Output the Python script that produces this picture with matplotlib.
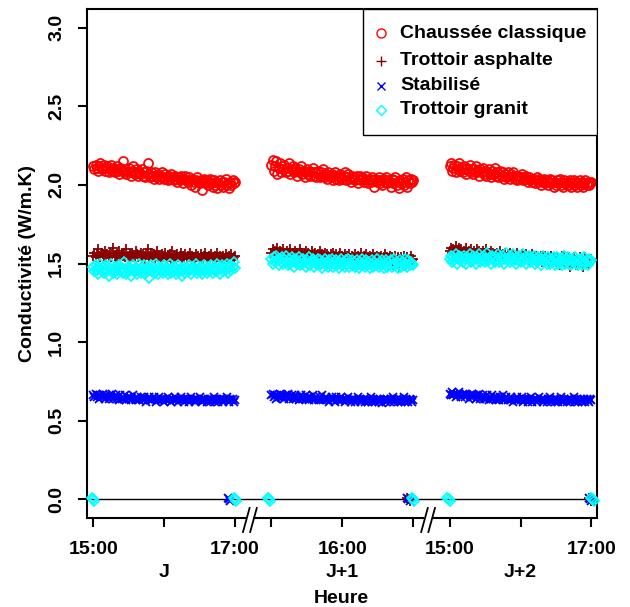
import matplotlib
matplotlib.use("Agg")
import matplotlib.pyplot as plt

plt.rcParams['font.family'] = ['Liberation Sans', 'DejaVu Sans']

# ---------------- data ----------------
series_names = ["Chaussée classique", "Trottoir asphalte", "Stabilisé", "Trottoir granit"]
day_labels = ["J", "J+1", "J+2"]
hour_tick_labels = ["15:00", "", "17:00", "", "16:00", "", "15:00", "", "17:00"]
tick_hours = [15, 16, 17]
minutes = list(range(0, 121))   # minutes after 15:00, each day

chaussee_j0 = [2.12, 2.10, 2.13, 2.11, 2.09, 2.12, 2.14, 2.10, 2.11, 2.13,
               2.09, 2.11, 2.12, 2.08, 2.10, 2.13, 2.09, 2.11, 2.08, 2.10,
               2.12, 2.09, 2.07, 2.11, 2.09, 2.15, 2.08, 2.10, 2.07, 2.09,
               2.11, 2.08, 2.06, 2.09, 2.12, 2.07, 2.08, 2.10, 2.06, 2.08,
               2.07, 2.10, 2.06, 2.08, 2.05, 2.09, 2.14, 2.07, 2.05, 2.08,
               2.06, 2.04, 2.08, 2.06, 2.05, 2.07, 2.04, 2.06, 2.08, 2.05,
               2.04, 2.07, 2.05, 2.03, 2.06, 2.04, 2.07, 2.05, 2.03, 2.06,
               2.04, 2.02, 2.05, 2.03, 2.06, 2.04, 2.01, 2.04, 2.06, 2.03,
               2.02, 2.05, 2.03, 2.00, 2.04, 2.02, 1.99, 2.03, 2.05, 2.02,
               2.01, 2.03, 1.97, 2.02, 2.04, 2.01, 2.03, 2.00, 2.02, 2.04,
               2.01, 1.99, 2.03, 2.00, 2.02, 1.98, 2.01, 2.03, 2.00, 2.02,
               1.99, 2.02, 2.04, 2.00, 2.01, 1.98, 2.02, 2.00, 2.03, 2.01,
               2.02]
chaussee_j1 = [2.13, 2.16, 2.09, 2.12, 2.15, 2.07, 2.11, 2.14, 2.08, 2.12,
               2.10, 2.13, 2.08, 2.11, 2.09, 2.14, 2.07, 2.10, 2.12, 2.08,
               2.11, 2.09, 2.06, 2.10, 2.08, 2.12, 2.07, 2.09, 2.05, 2.08,
               2.10, 2.07, 2.09, 2.06, 2.08, 2.11, 2.06, 2.08, 2.05, 2.09,
               2.07, 2.05, 2.08, 2.06, 2.10, 2.05, 2.07, 2.04, 2.08, 2.06,
               2.05, 2.07, 2.03, 2.06, 2.08, 2.04, 2.06, 2.03, 2.07, 2.05,
               2.04, 2.06, 2.08, 2.03, 2.05, 2.07, 2.04, 2.02, 2.06, 2.04,
               2.05, 2.03, 2.06, 2.01, 2.04, 2.06, 2.03, 2.05, 2.02, 2.04,
               2.06, 2.03, 2.01, 2.04, 2.02, 2.05, 2.03, 1.99, 2.04, 2.02,
               2.03, 2.05, 2.01, 2.03, 2.00, 2.04, 2.02, 2.05, 2.01, 2.03,
               2.02, 1.99, 2.04, 2.01, 2.03, 2.05, 2.00, 2.02, 1.98, 2.03,
               2.01, 2.04, 2.00, 2.02, 2.05, 1.99, 2.03, 2.01, 2.04, 2.02,
               2.03]
chaussee_j2 = [2.12, 2.14, 2.09, 2.11, 2.13, 2.08, 2.12, 2.10, 2.14, 2.09,
               2.11, 2.08, 2.12, 2.10, 2.07, 2.11, 2.09, 2.13, 2.08, 2.10,
               2.07, 2.10, 2.12, 2.08, 2.09, 2.06, 2.10, 2.08, 2.11, 2.07,
               2.09, 2.06, 2.08, 2.10, 2.07, 2.05, 2.09, 2.07, 2.11, 2.06,
               2.08, 2.05, 2.07, 2.09, 2.06, 2.08, 2.04, 2.07, 2.05, 2.08,
               2.06, 2.04, 2.07, 2.05, 2.08, 2.04, 2.06, 2.03, 2.06, 2.04,
               2.05, 2.07, 2.03, 2.05, 2.04, 2.06, 2.02, 2.05, 2.03, 2.04,
               2.02, 2.04, 2.01, 2.03, 2.05, 2.02, 2.04, 2.00, 2.03, 2.02,
               2.04, 2.01, 2.03, 2.00, 2.02, 2.04, 2.01, 2.03, 1.99, 2.02,
               2.00, 2.03, 2.01, 2.04, 2.00, 2.02, 1.99, 2.03, 2.01, 2.00,
               2.02, 2.00, 2.03, 1.99, 2.01, 2.03, 2.00, 2.02, 1.99, 2.01,
               2.03, 2.00, 2.02, 1.99, 2.01, 2.03, 2.00, 2.02, 2.00, 2.01,
               2.02]

asphalte_j0 = [1.55, 1.57, 1.54, 1.56, 1.59, 1.55, 1.54, 1.57, 1.56, 1.55,
               1.58, 1.54, 1.56, 1.55, 1.57, 1.54, 1.56, 1.60, 1.55, 1.54,
               1.56, 1.55, 1.58, 1.54, 1.56, 1.55, 1.57, 1.54, 1.59, 1.55,
               1.54, 1.56, 1.55, 1.57, 1.54, 1.55, 1.58, 1.56, 1.54, 1.55,
               1.57, 1.54, 1.56, 1.55, 1.53, 1.56, 1.59, 1.54, 1.55, 1.57,
               1.54, 1.56, 1.53, 1.55, 1.58, 1.54, 1.55, 1.53, 1.56, 1.54,
               1.55, 1.57, 1.53, 1.55, 1.54, 1.56, 1.53, 1.58, 1.54, 1.55,
               1.53, 1.56, 1.54, 1.55, 1.57, 1.53, 1.55, 1.54, 1.56, 1.53,
               1.55, 1.54, 1.57, 1.53, 1.55, 1.54, 1.52, 1.56, 1.54, 1.55,
               1.53, 1.56, 1.54, 1.53, 1.55, 1.57, 1.54, 1.53, 1.55, 1.54,
               1.56, 1.53, 1.54, 1.55, 1.53, 1.57, 1.54, 1.55, 1.53, 1.54,
               1.55, 1.53, 1.56, 1.54, 1.53, 1.55, 1.54, 1.56, 1.53, 1.54,
               1.55]
asphalte_j1 = [1.57, 1.59, 1.56, 1.58, 1.57, 1.60, 1.56, 1.58, 1.57, 1.56,
               1.59, 1.57, 1.56, 1.58, 1.55, 1.57, 1.59, 1.56, 1.57, 1.55,
               1.58, 1.56, 1.57, 1.55, 1.59, 1.56, 1.57, 1.55, 1.56, 1.58,
               1.55, 1.57, 1.56, 1.54, 1.58, 1.55, 1.56, 1.57, 1.54, 1.56,
               1.55, 1.58, 1.54, 1.56, 1.55, 1.57, 1.54, 1.56, 1.55, 1.53,
               1.56, 1.54, 1.57, 1.55, 1.53, 1.56, 1.54, 1.55, 1.57, 1.53,
               1.55, 1.54, 1.56, 1.53, 1.55, 1.54, 1.56, 1.53, 1.55, 1.54,
               1.53, 1.56, 1.54, 1.55, 1.53, 1.54, 1.57, 1.53, 1.55, 1.54,
               1.56, 1.53, 1.54, 1.55, 1.53, 1.54, 1.56, 1.52, 1.54, 1.55,
               1.53, 1.54, 1.52, 1.55, 1.53, 1.54, 1.56, 1.52, 1.54, 1.53,
               1.55, 1.52, 1.54, 1.49, 1.53, 1.55, 1.52, 1.54, 1.48, 1.53,
               1.54, 1.52, 1.55, 1.53, 1.49, 1.54, 1.52, 1.53, 1.55, 1.52,
               1.53]
asphalte_j2 = [1.58, 1.60, 1.57, 1.59, 1.58, 1.61, 1.57, 1.58, 1.60, 1.57,
               1.59, 1.57, 1.58, 1.56, 1.60, 1.57, 1.58, 1.56, 1.59, 1.57,
               1.56, 1.58, 1.57, 1.59, 1.56, 1.58, 1.57, 1.55, 1.58, 1.56,
               1.57, 1.59, 1.55, 1.57, 1.56, 1.58, 1.55, 1.57, 1.56, 1.54,
               1.57, 1.55, 1.56, 1.58, 1.54, 1.56, 1.55, 1.57, 1.54, 1.56,
               1.55, 1.57, 1.54, 1.55, 1.56, 1.53, 1.55, 1.57, 1.54, 1.55,
               1.53, 1.56, 1.54, 1.55, 1.53, 1.56, 1.54, 1.52, 1.55, 1.54,
               1.56, 1.53, 1.54, 1.55, 1.52, 1.54, 1.53, 1.55, 1.51, 1.54,
               1.53, 1.55, 1.52, 1.54, 1.50, 1.53, 1.55, 1.52, 1.54, 1.53,
               1.51, 1.54, 1.52, 1.49, 1.53, 1.55, 1.52, 1.54, 1.50, 1.53,
               1.52, 1.54, 1.48, 1.53, 1.51, 1.54, 1.52, 1.49, 1.53, 1.52,
               1.54, 1.51, 1.53, 1.48, 1.52, 1.54, 1.51, 1.53, 1.50, 1.52,
               1.53]

stabilise_j0 = [0.66, 0.65, 0.67, 0.65, 0.66, 0.64, 0.66, 0.65, 0.67, 0.65,
                0.64, 0.66, 0.65, 0.64, 0.66, 0.65, 0.67, 0.64, 0.65, 0.66,
                0.64, 0.65, 0.63, 0.66, 0.64, 0.65, 0.64, 0.66, 0.63, 0.65,
                0.64, 0.65, 0.63, 0.64, 0.66, 0.64, 0.63, 0.65, 0.64, 0.63,
                0.65, 0.64, 0.63, 0.65, 0.64, 0.62, 0.64, 0.65, 0.63, 0.64,
                0.63, 0.65, 0.64, 0.62, 0.64, 0.63, 0.65, 0.64, 0.63, 0.64,
                0.62, 0.64, 0.63, 0.65, 0.63, 0.64, 0.62, 0.64, 0.63, 0.65,
                0.63, 0.64, 0.62, 0.63, 0.65, 0.63, 0.64, 0.62, 0.64, 0.63,
                0.64, 0.62, 0.63, 0.65, 0.63, 0.64, 0.62, 0.63, 0.64, 0.63,
                0.65, 0.63, 0.62, 0.64, 0.63, 0.64, 0.62, 0.64, 0.63, 0.62,
                0.64, 0.63, 0.65, 0.62, 0.64, 0.63, 0.62, 0.64, 0.63, 0.64,
                0.62, 0.64, 0.63, 0.65, 0.63, 0.62, 0.64, 0.63, 0.64, 0.62,
                0.63]
stabilise_j1 = [0.66, 0.67, 0.65, 0.66, 0.64, 0.66, 0.65, 0.67, 0.65, 0.66,
                0.65, 0.64, 0.66, 0.65, 0.67, 0.64, 0.65, 0.66, 0.64, 0.65,
                0.66, 0.64, 0.65, 0.63, 0.65, 0.66, 0.64, 0.65, 0.64, 0.66,
                0.64, 0.65, 0.63, 0.65, 0.64, 0.66, 0.63, 0.64, 0.65, 0.64,
                0.63, 0.65, 0.64, 0.66, 0.63, 0.64, 0.65, 0.63, 0.64, 0.62,
                0.64, 0.65, 0.63, 0.64, 0.62, 0.65, 0.63, 0.64, 0.63, 0.65,
                0.63, 0.64, 0.62, 0.64, 0.63, 0.65, 0.63, 0.62, 0.64, 0.63,
                0.64, 0.62, 0.63, 0.65, 0.63, 0.64, 0.62, 0.63, 0.64, 0.62,
                0.63, 0.64, 0.62, 0.63, 0.65, 0.62, 0.64, 0.63, 0.62, 0.64,
                0.63, 0.62, 0.64, 0.63, 0.61, 0.64, 0.63, 0.62, 0.64, 0.63,
                0.62, 0.64, 0.63, 0.65, 0.62, 0.63, 0.64, 0.62, 0.63, 0.64,
                0.62, 0.63, 0.65, 0.62, 0.64, 0.63, 0.62, 0.64, 0.63, 0.62,
                0.63]
stabilise_j2 = [0.67, 0.66, 0.68, 0.66, 0.67, 0.65, 0.67, 0.66, 0.68, 0.66,
                0.65, 0.67, 0.66, 0.65, 0.67, 0.66, 0.64, 0.66, 0.65, 0.67,
                0.65, 0.66, 0.64, 0.66, 0.65, 0.67, 0.64, 0.65, 0.66, 0.64,
                0.65, 0.64, 0.66, 0.63, 0.65, 0.64, 0.66, 0.64, 0.65, 0.63,
                0.65, 0.64, 0.63, 0.65, 0.64, 0.66, 0.63, 0.64, 0.65, 0.63,
                0.64, 0.63, 0.65, 0.64, 0.62, 0.64, 0.63, 0.65, 0.63, 0.64,
                0.63, 0.65, 0.62, 0.64, 0.63, 0.64, 0.62, 0.64, 0.63, 0.65,
                0.62, 0.64, 0.63, 0.64, 0.62, 0.63, 0.65, 0.63, 0.64, 0.62,
                0.64, 0.63, 0.62, 0.64, 0.63, 0.65, 0.62, 0.63, 0.64, 0.62,
                0.63, 0.64, 0.62, 0.63, 0.65, 0.63, 0.62, 0.64, 0.63, 0.62,
                0.64, 0.63, 0.62, 0.64, 0.63, 0.65, 0.62, 0.63, 0.64, 0.62,
                0.63, 0.64, 0.62, 0.63, 0.64, 0.62, 0.64, 0.63, 0.62, 0.64,
                0.63]

granit_j0 = [1.48, 1.45, 1.49, 1.46, 1.43, 1.47, 1.50, 1.45, 1.48, 1.44,
             1.46, 1.49, 1.45, 1.42, 1.47, 1.50, 1.46, 1.44, 1.48, 1.45,
             1.43, 1.47, 1.49, 1.45, 1.47, 1.44, 1.51, 1.46, 1.43, 1.48,
             1.45, 1.47, 1.42, 1.46, 1.49, 1.45, 1.47, 1.43, 1.46, 1.50,
             1.44, 1.47, 1.45, 1.49, 1.43, 1.46, 1.48, 1.41, 1.46, 1.49,
             1.45, 1.47, 1.44, 1.50, 1.46, 1.43, 1.48, 1.45, 1.47, 1.44,
             1.49, 1.45, 1.47, 1.43, 1.46, 1.50, 1.44, 1.47, 1.45, 1.48,
             1.43, 1.46, 1.49, 1.45, 1.47, 1.42, 1.46, 1.48, 1.44, 1.47,
             1.45, 1.49, 1.46, 1.43, 1.48, 1.45, 1.47, 1.50, 1.44, 1.46,
             1.48, 1.45, 1.43, 1.47, 1.49, 1.46, 1.44, 1.48, 1.45, 1.47,
             1.49, 1.44, 1.46, 1.48, 1.45, 1.50, 1.46, 1.43, 1.47, 1.49,
             1.45, 1.48, 1.46, 1.50, 1.44, 1.47, 1.49, 1.46, 1.48, 1.51,
             1.47]
granit_j1 = [1.53, 1.50, 1.54, 1.51, 1.55, 1.52, 1.49, 1.53, 1.51, 1.54,
             1.50, 1.52, 1.55, 1.51, 1.49, 1.53, 1.50, 1.54, 1.52, 1.48,
             1.51, 1.53, 1.50, 1.54, 1.49, 1.52, 1.50, 1.53, 1.51, 1.48,
             1.52, 1.50, 1.54, 1.49, 1.51, 1.53, 1.48, 1.51, 1.50, 1.53,
             1.49, 1.52, 1.50, 1.47, 1.51, 1.53, 1.49, 1.51, 1.48, 1.52,
             1.50, 1.53, 1.48, 1.51, 1.49, 1.52, 1.50, 1.47, 1.51, 1.53,
             1.49, 1.51, 1.48, 1.52, 1.50, 1.53, 1.48, 1.50, 1.52, 1.49,
             1.51, 1.48, 1.52, 1.50, 1.47, 1.51, 1.49, 1.53, 1.50, 1.48,
             1.52, 1.49, 1.51, 1.47, 1.50, 1.52, 1.48, 1.51, 1.49, 1.53,
             1.50, 1.48, 1.51, 1.49, 1.52, 1.47, 1.50, 1.52, 1.48, 1.51,
             1.49, 1.52, 1.48, 1.50, 1.53, 1.49, 1.51, 1.47, 1.50, 1.52,
             1.48, 1.51, 1.49, 1.53, 1.50, 1.48, 1.52, 1.49, 1.51, 1.50,
             1.49]
granit_j2 = [1.53, 1.55, 1.51, 1.54, 1.52, 1.56, 1.50, 1.53, 1.55, 1.52,
             1.54, 1.51, 1.55, 1.53, 1.50, 1.54, 1.52, 1.56, 1.51, 1.53,
             1.55, 1.52, 1.50, 1.54, 1.53, 1.56, 1.51, 1.54, 1.52, 1.55,
             1.51, 1.53, 1.57, 1.52, 1.54, 1.50, 1.55, 1.53, 1.51, 1.54,
             1.52, 1.56, 1.51, 1.54, 1.52, 1.55, 1.50, 1.53, 1.57, 1.52,
             1.54, 1.51, 1.55, 1.53, 1.56, 1.52, 1.50, 1.54, 1.52, 1.55,
             1.51, 1.53, 1.56, 1.52, 1.54, 1.50, 1.53, 1.55, 1.51, 1.54,
             1.52, 1.55, 1.50, 1.53, 1.51, 1.54, 1.52, 1.49, 1.53, 1.55,
             1.51, 1.53, 1.50, 1.54, 1.52, 1.50, 1.53, 1.51, 1.54, 1.49,
             1.52, 1.54, 1.50, 1.53, 1.51, 1.49, 1.53, 1.55, 1.50, 1.52,
             1.54, 1.50, 1.52, 1.49, 1.53, 1.51, 1.54, 1.50, 1.52, 1.49,
             1.53, 1.51, 1.49, 1.52, 1.54, 1.50, 1.52, 1.49, 1.53, 1.51,
             1.52]

# readings near zero (sensor off): day index, minute after 15:00, value
asphalte_zero_day = [1, 1, 1, 2, 2, 2]
asphalte_zero_min = [115, 116, 117, 118, 119, 120]
asphalte_zero_val = [0.01, 0.0, -0.01, 0.01, 0.0, -0.01]
stabilise_zero_day = [0, 0, 0, 1, 1, 1, 2, 2, 2]
stabilise_zero_min = [114, 115, 116, 115, 116, 117, 118, 119, 120]
stabilise_zero_val = [0.01, 0.0, -0.01, 0.01, 0.0, -0.01, 0.01, 0.0, -0.01]
granit_zero_day = [0, 0, 0, 0, 0, 0, 1, 1, 1, 1, 1, 1, 2, 2, 2, 2, 2, 2]
granit_zero_min = [-1, 0, 1, 119, 120, 121, -3, -2, -1, 119, 120, 121,
                   -2, -1, 0, 120, 121, 122]
granit_zero_val = [0.01, 0.0, -0.01] * 6

# ---------------- layout ----------------
DAY_OFFSET = [0.0, 2.515, 5.03]   # hours on the broken x axis
BREAKS = [2.21, 4.725]
FS = 14
FW = 'bold'

def xpos(day, minute):
    return DAY_OFFSET[day] + minute / 60.0

W, H = 630, 607
fig = plt.figure(figsize=(W / 100, H / 100), dpi=100)
L, R, T, B = 86.7, 596.7, 9.0, 518.0
ax = fig.add_axes([L / W, 1 - B / H, (R - L) / W, (B - T) / H])
xl = (-0.0932, 7.105)
ax.set_xlim(*xl)
ax.set_ylim(-0.12, 3.12)

colors = ["#FF0000", "#8B0000", "#0000FF", "#00FFFF"]
styles = [dict(marker='o', ms=6.5, mfc='none', mec=colors[0], mew=1.25),
          dict(marker='+', ms=7.5, mec=colors[1], mew=1.3),
          dict(marker='x', ms=5.5, mec=colors[2], mew=1.3),
          dict(marker='D', ms=5.6, mfc='none', mec=colors[3], mew=1.25)]

data = [[chaussee_j0, chaussee_j1, chaussee_j2],
        [asphalte_j0, asphalte_j1, asphalte_j2],
        [stabilise_j0, stabilise_j1, stabilise_j2],
        [granit_j0, granit_j1, granit_j2]]
zeros = [([], [], []),
         (asphalte_zero_day, asphalte_zero_min, asphalte_zero_val),
         (stabilise_zero_day, stabilise_zero_min, stabilise_zero_val),
         (granit_zero_day, granit_zero_min, granit_zero_val)]

ax.axhline(0, color='black', lw=1.0, zorder=1)

for k in range(4):
    xs, ys = [], []
    for d in range(3):
        n = min(len(minutes), len(data[k][d]))
        xs += [xpos(d, m) for m in minutes[:n]]
        ys += data[k][d][:n]
    zd, zm, zv = zeros[k]
    xs += [xpos(d, m) for d, m in zip(zd, zm)]
    ys += list(zv)
    ax.plot(xs, ys, ls='none', zorder=2 + k, clip_on=False, **styles[k])

# spines
for s in ['top', 'left', 'right']:
    ax.spines[s].set_linewidth(1.5)
ax.spines['bottom'].set_visible(False)

# bottom axis line with breaks
px_per_h = (R - L) / (xl[1] - xl[0])
px_y = 1.0 / (B - T)
tr = ax.get_xaxis_transform()
gap = 3.6 / px_per_h
edges = [xl[0], BREAKS[0] - gap, BREAKS[0] + gap, BREAKS[1] - gap, BREAKS[1] + gap, xl[1]]
for i in range(0, 6, 2):
    ax.plot([edges[i], edges[i + 1]], [0, 0], color='black', lw=1.5, transform=tr,
            clip_on=False, solid_capstyle='butt')
for b in BREAKS:
    for sgn in (-1, 1):
        cx = b + sgn * gap
        ax.plot([cx - 3.3 / px_per_h, cx + 3.3 / px_per_h], [-14 * px_y, 10 * px_y],
                color='black', lw=1.3, transform=tr, clip_on=False)

# x ticks
xt = [xpos(d, (h - 15) * 60) for d in range(3) for h in tick_hours]
ax.set_xticks(xt)
ax.set_xticklabels(hour_tick_labels, fontweight=FW)
ax.tick_params(axis='x', direction='out', length=6.5, width=1.5, pad=10, labelsize=FS)
for d in range(3):
    ax.text(xpos(d, 60), -0.107, day_labels[d], transform=tr, ha='center', va='center',
            fontsize=FS, fontweight=FW)
ax.set_xlabel("Heure", fontsize=FS, fontweight=FW, labelpad=23)

# y ticks
ax.set_yticks([0, 0.5, 1.0, 1.5, 2.0, 2.5, 3.0])
ax.set_yticklabels(["0.0", "0.5", "1.0", "1.5", "2.0", "2.5", "3.0"], fontweight=FW)
ax.tick_params(axis='y', direction='out', length=6.5, width=1.5, pad=9, labelsize=FS,
               labelrotation=90)
for lab in ax.get_yticklabels():
    lab.set_verticalalignment('center')
ax.set_ylabel("Conductivité (W/m.K)", fontsize=FS, fontweight=FW, labelpad=9)

# legend (top right, framed)
lx0 = (362.7 - L) / (R - L)
ly0 = (B - 135.0) / (B - T)
ax.add_patch(plt.Rectangle((lx0, ly0), 1 - lx0, 1 - ly0, transform=ax.transAxes,
                           facecolor='white', edgecolor='black', lw=1.0, zorder=20))
rows_px = [33.3, 60.5, 85.5, 110.0]
for k in range(4):
    yy = (B - rows_px[k]) / (B - T)
    st = dict(styles[k])
    st['mew'] = 1.0
    ax.plot([(380.7 - L) / (R - L)], [yy], transform=ax.transAxes, ls='none', zorder=21,
            clip_on=False, **st)
    ax.text((400.0 - L) / (R - L), yy, series_names[k], transform=ax.transAxes,
            ha='left', va='center', fontsize=FS, fontweight=FW, zorder=21)

fig.savefig("out.png", dpi=100)
